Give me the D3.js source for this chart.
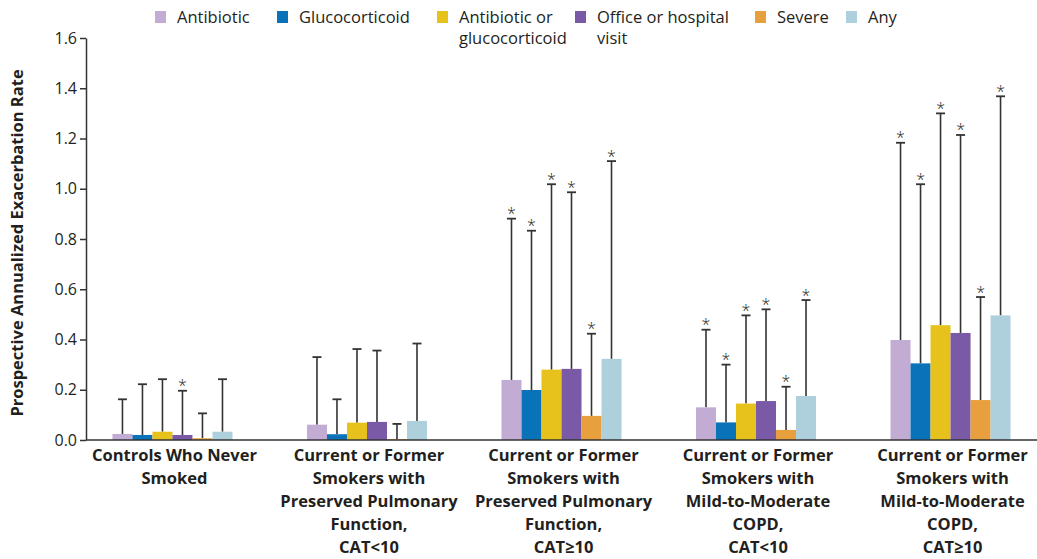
<!DOCTYPE html>
<html>
<head>
<meta charset="utf-8">
<script src="https://cdn.jsdelivr.net/npm/d3@7"></script>
<style>
  body { margin: 0; background: #fff; }
  svg text { font-family: "Open Sans", sans-serif; fill: #231f20; }
</style>
</head>
<body>
<div id="chart"></div>
<script>
// groups along the x axis (each label split into lines)
var groups = ["Controls Who Never Smoked", "Current or Former Smokers, Preserved, CAT<10",
  "Current or Former Smokers, Preserved, CAT\u226510", "Current or Former Smokers, COPD, CAT<10",
  "Current or Former Smokers, COPD, CAT\u226510"];
var groupLabels = [
  ["Controls Who Never", "Smoked"],
  ["Current or Former", "Smokers with", "Preserved Pulmonary", "Function,", "CAT<10"],
  ["Current or Former", "Smokers with", "Preserved Pulmonary", "Function,", "CAT\u226510"],
  ["Current or Former", "Smokers with", "Mild-to-Moderate", "COPD,", "CAT<10"],
  ["Current or Former", "Smokers with", "Mild-to-Moderate", "COPD,", "CAT\u226510"]
];

// exacerbation types
var series = ["Antibiotic", "Glucocorticoid", "Antibiotic or glucocorticoid", "Office or hospital visit", "Severe", "Any"];
var legendLines = [["Antibiotic"], ["Glucocorticoid"], ["Antibiotic or", "glucocorticoid"], ["Office or hospital", "visit"], ["Severe"], ["Any"]];
var colors = ["#c3acd3", "#0a72b8", "#e8c21c", "#7a5aa6", "#e8a03e", "#aecfdc"];

// rates, one row per series, one value per group
var rates = [
  [0.024, 0.061, 0.239, 0.130, 0.398],
  [0.020, 0.023, 0.199, 0.070, 0.305],
  [0.033, 0.069, 0.280, 0.145, 0.457],
  [0.020, 0.072, 0.283, 0.155, 0.426],
  [0.007, 0.003, 0.096, 0.040, 0.159],
  [0.033, 0.076, 0.323, 0.175, 0.496]
];
// upper error bar values
var upper = [
  [0.162, 0.330, 0.881, 0.439, 1.183],
  [0.222, 0.162, 0.833, 0.300, 1.018],
  [0.242, 0.362, 1.018, 0.496, 1.300],
  [0.196, 0.356, 0.986, 0.520, 1.214],
  [0.106, 0.064, 0.423, 0.212, 0.569],
  [0.242, 0.384, 1.110, 0.557, 1.368]
];
// significant (asterisk)
var signif = [
  [0, 0, 1, 1, 1],
  [0, 0, 1, 1, 1],
  [0, 0, 1, 1, 1],
  [1, 0, 1, 1, 1],
  [0, 0, 1, 1, 1],
  [0, 0, 1, 1, 1]
];
var yTicks = [0, 0.2, 0.4, 0.6, 0.8, 1.0, 1.2, 1.4, 1.6];

var width = 1037, height = 559;
var axisX = 86, baseY = 440, topY = 38;
var ink = "#333";

var svg = d3.select("#chart").append("svg")
  .attr("width", width)
  .attr("height", height);

var y = d3.scaleLinear().domain([0, 1.6]).range([baseY, topY]);
var x0 = d3.scaleBand().domain(groups).range([axisX, width])
  .paddingInner(0.383).paddingOuter(0.136);
var x1 = d3.scaleBand().domain(series).range([0, x0.bandwidth()]);

// flatten to one record per bar
var bars = [];
series.forEach(function(s, i) {
  groups.forEach(function(g, j) {
    bars.push({s: s, g: g, v: rates[i][j], hi: upper[i][j], star: signif[i][j], color: colors[i]});
  });
});

// error bars (drawn first so bars sit on top)
var eb = svg.append("g").selectAll("g").data(bars).enter().append("g")
  .attr("transform", function(d) { return "translate(" + (x0(d.g) + x1(d.s) + x1.bandwidth() / 2) + ",0)"; });
eb.append("line")
  .attr("y1", function(d) { return y(d.v); })
  .attr("y2", function(d) { return y(d.hi); })
  .attr("stroke", ink).attr("stroke-width", 1.6);
eb.append("line")
  .attr("x1", -4.5).attr("x2", 4.5)
  .attr("y1", function(d) { return y(d.hi); })
  .attr("y2", function(d) { return y(d.hi); })
  .attr("stroke", ink).attr("stroke-width", 1.8);
eb.filter(function(d) { return d.star; }).append("text")
  .attr("y", function(d) { return y(d.hi) + 0.5; })
  .attr("text-anchor", "middle")
  .attr("font-size", "16px")
  .attr("font-weight", "300")
  .text("*");

svg.append("g").selectAll("rect").data(bars).enter().append("rect")
  .attr("x", function(d) { return x0(d.g) + x1(d.s); })
  .attr("y", function(d) { return y(d.v); })
  .attr("width", x1.bandwidth())
  .attr("height", function(d) { return baseY - y(d.v); })
  .attr("fill", function(d) { return d.color; });

// y axis
var yAxis = svg.append("g")
  .attr("transform", "translate(" + axisX + ",0)")
  .call(d3.axisLeft(y).tickValues(yTicks).tickFormat(d3.format(".1f")).tickSize(6).tickSizeOuter(0));
yAxis.select(".domain").attr("stroke", ink).attr("stroke-width", 1.5);
yAxis.selectAll(".tick line").attr("stroke", ink).attr("stroke-width", 1.5);
yAxis.selectAll(".tick text").attr("font-size", "16px").attr("font-family", "Open Sans").attr("fill", "#231f20").attr("x", -9);

// x axis line
svg.append("line")
  .attr("x1", axisX).attr("x2", width)
  .attr("y1", baseY).attr("y2", baseY)
  .attr("stroke", ink).attr("stroke-width", 1.5);

// group labels
var gl = svg.append("g").selectAll("text").data(groups).enter().append("text")
  .attr("text-anchor", "middle")
  .attr("font-size", "16.5px")
  .attr("font-weight", "bold")
  .attr("transform", function(d) { return "translate(" + (x0(d) + x0.bandwidth() / 2 + 2) + ",0)"; });
gl.selectAll("tspan").data(function(d, i) { return groupLabels[i]; }).enter().append("tspan")
  .attr("x", 0)
  .attr("y", function(d, k) { return 461 + k * 23; })
  .text(function(d) { return d; });

// y title
svg.append("text")
  .attr("transform", "translate(23,243) rotate(-90)")
  .attr("text-anchor", "middle")
  .attr("font-size", "16.5px")
  .attr("font-weight", "bold")
  .text("Prospective Annualized Exacerbation Rate");

// legend
var legendX = [155, 277, 437, 575, 755, 846];
var lg = svg.append("g").selectAll("g").data(series).enter().append("g")
  .attr("transform", function(d, i) { return "translate(" + legendX[i] + ",0)"; });
lg.append("rect")
  .attr("y", 11).attr("width", 11).attr("height", 12)
  .attr("fill", function(d, i) { return colors[i]; });
lg.append("text")
  .attr("font-size", "16.5px")
  .selectAll("tspan").data(function(d, i) { return legendLines[i]; }).enter().append("tspan")
  .attr("x", 22)
  .attr("y", function(d, k) { return 23 + k * 21; })
  .text(function(d) { return d; });
</script>
</body>
</html>
